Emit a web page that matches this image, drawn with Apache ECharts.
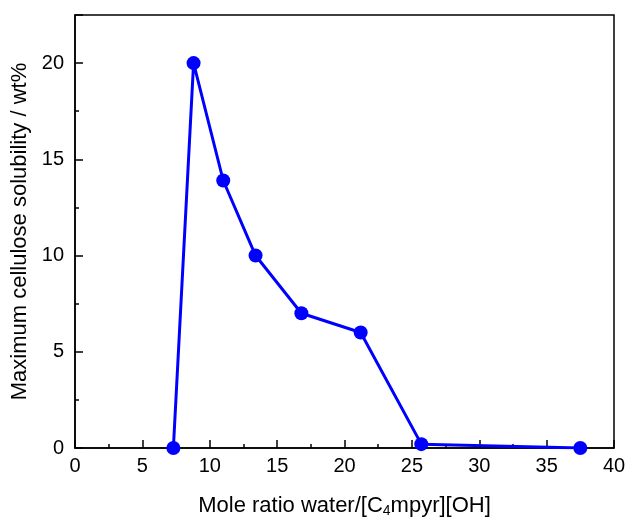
<!DOCTYPE html>
<html>
<head>
<meta charset="utf-8">
<script src="https://cdn.jsdelivr.net/npm/echarts@6/dist/echarts.min.js"></script>
<style>
  html, body { margin: 0; padding: 0; background: #fff; }
  #main { width: 630px; height: 518px; }
</style>
</head>
<body>
<div id="main"></div>
<script>
// mole ratio water/[C4mpyr][OH] vs max cellulose solubility
var moleRatio = [7.3, 8.8, 11.0, 13.4, 16.8, 21.2, 25.7, 37.5];
var solubility = [0, 20, 13.9, 10.0, 7.0, 6.0, 0.2, 0];
var xTicks = [0, 5, 10, 15, 20, 25, 30, 35, 40];
var yTicks = [0, 5, 10, 15, 20];

var points = moleRatio.map(function (x, i) { return [x, solubility[i]]; });

var fontFam = 'Liberation Sans, Arial, sans-serif';

var myChart = echarts.init(document.getElementById('main'));

var option = {
    animation: false,
    backgroundColor: '#fff',
    grid: {
        left: 75,
        right: 16,
        top: 15,
        bottom: 70,
        outerBoundsMode: 'none',
        containLabel: false,
        show: true,
        borderColor: '#000',
        borderWidth: 1.5,
        backgroundColor: 'transparent'
    },
    xAxis: {
        type: 'value',
        min: xTicks[0],
        max: xTicks[xTicks.length - 1],
        interval: 5,
        name: 'Mole ratio water/[C{sub|4}mpyr][OH]',
        nameLocation: 'middle',
        nameGap: 45,
        nameTextStyle: {
            color: '#000',
            fontSize: 22,
            fontFamily: fontFam,
            rich: {
                sub: { fontSize: 14, fontFamily: fontFam, color: '#000', padding: [11, 0, 0, 0] }
            }
        },
        axisLine: { lineStyle: { color: '#000', width: 1.5 } },
        axisTick: { inside: true, length: 8, lineStyle: { color: '#000', width: 1.5 } },
        minorTick: { show: true, splitNumber: 2, length: 4, lineStyle: { color: '#000', width: 1.5 } },
        axisLabel: { color: '#000', fontSize: 20, fontFamily: fontFam, margin: 8 },
        splitLine: { show: false }
    },
    yAxis: [{
        type: 'value',
        min: 0,
        max: 22.5,
        interval: 5,
        name: 'Maximum cellulose solubility / wt%',
        nameLocation: 'middle',
        nameGap: 40,
        nameTextStyle: { color: '#000', fontSize: 22, fontFamily: fontFam },
        axisLine: { lineStyle: { color: '#000', width: 1.5 } },
        axisTick: { inside: true, length: 8, lineStyle: { color: '#000', width: 1.5 } },
        axisLabel: {
            color: '#000', fontSize: 20, fontFamily: fontFam, margin: 11,
            formatter: function (v) { return yTicks.indexOf(v) >= 0 ? String(v) : ''; }
        },
        splitLine: { show: false }
    }, {
        // minor ticks only
        type: 'value',
        position: 'left',
        min: 0,
        max: 22.5,
        interval: 2.5,
        axisLine: { show: false },
        axisTick: { inside: true, length: 4, lineStyle: { color: '#000', width: 1.5 } },
        axisLabel: { show: false },
        splitLine: { show: false }
    }],
    series: [{
        type: 'line',
        data: points,
        symbol: 'circle',
        symbolSize: 14,
        itemStyle: { color: '#0000ff' },
        lineStyle: { color: '#0000ff', width: 3 }
    }]
};

myChart.setOption(option);
</script>
</body>
</html>
